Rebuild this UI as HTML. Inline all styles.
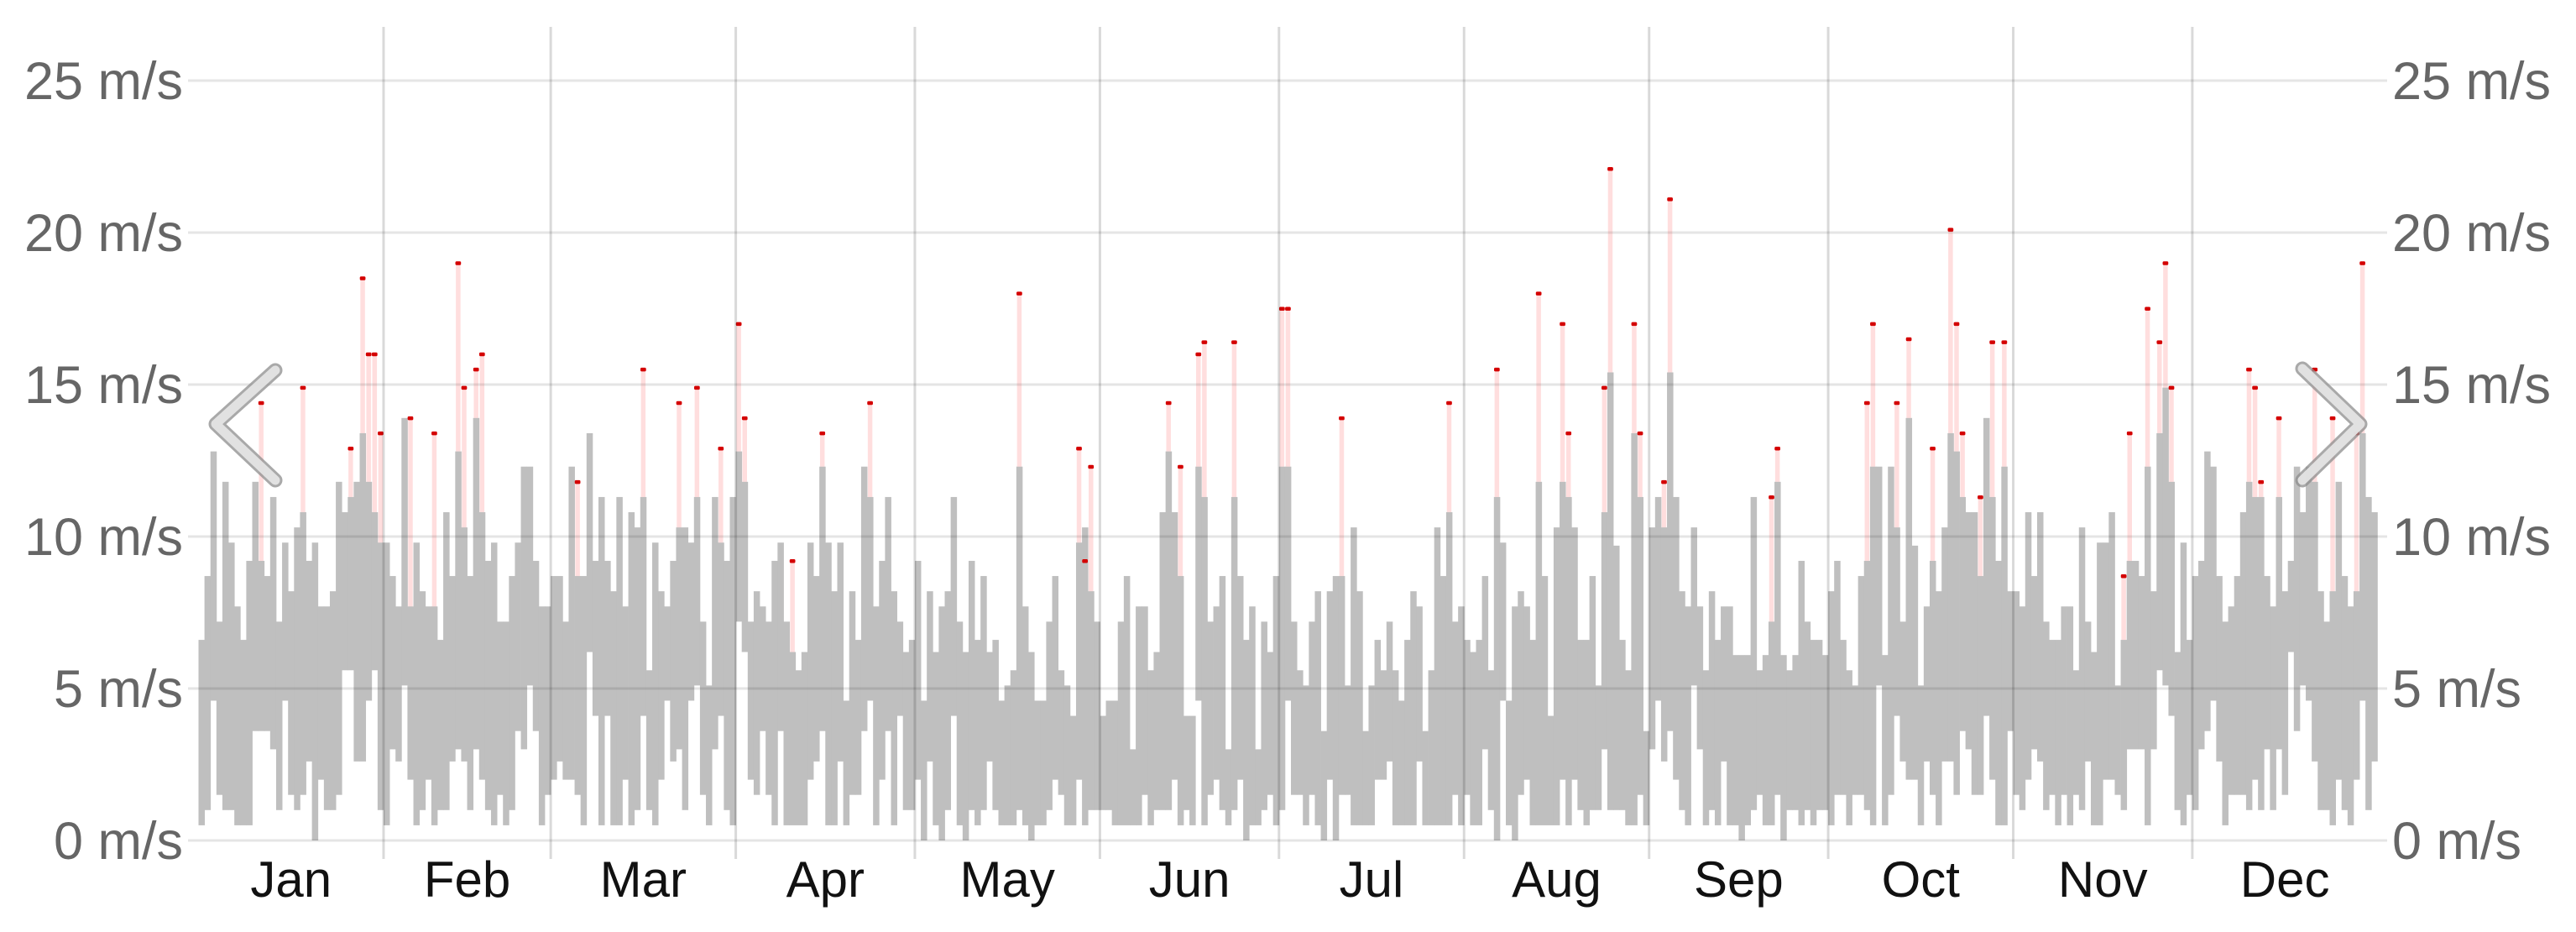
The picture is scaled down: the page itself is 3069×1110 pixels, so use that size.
<!DOCTYPE html>
<html><head><meta charset="utf-8"><title>Wind speed</title>
<style>
html,body{margin:0;padding:0;background:#fff;}
svg{display:block;}
text{font-family:"Liberation Sans",Arial,sans-serif;}
</style></head>
<body>
<svg id="chart" width="3069" height="1110" viewBox="0 0 3069 1110" xmlns="http://www.w3.org/2000/svg">
<g id="bars"></g>
<g id="grid"></g>
<g id="yleft"></g>
<g id="yright"></g>
<g id="xaxis"></g>
<g>
<polyline points="328,441 257,505 328,572" fill="none" stroke="rgba(140,140,140,0.75)" stroke-width="17" stroke-linecap="round" stroke-linejoin="round"/>
<polyline points="328,441 257,505 328,572" fill="none" stroke="rgba(228,228,228,0.95)" stroke-width="11" stroke-linecap="round" stroke-linejoin="round"/>
</g>
<g>
<polyline points="2743,439 2812,505 2743,572" fill="none" stroke="rgba(140,140,140,0.75)" stroke-width="17" stroke-linecap="round" stroke-linejoin="round"/>
<polyline points="2743,439 2812,505 2743,572" fill="none" stroke="rgba(228,228,228,0.95)" stroke-width="11" stroke-linecap="round" stroke-linejoin="round"/>
</g>
</svg>
<script>
const lows = [0.5,1.0,4.6,1.5,1.0,1.0,0.5,0.5,0.5,3.6,3.6,3.6,3.0,1.0,4.6,1.5,1.0,1.5,2.6,0,2.0,1.0,1.0,1.5,5.6,5.6,2.6,2.6,4.6,5.6,1.0,0.5,3.0,2.6,5.1,2.0,0.5,1.0,2.0,0.5,1.0,1.0,2.6,3.0,2.6,1.0,3.0,2.0,1.0,0.5,1.5,0.5,1.0,3.6,3.0,5.1,3.6,0.5,1.5,2.0,2.6,2.0,2.0,1.5,0.5,6.2,4.1,0.5,4.1,0.5,0.5,2.0,0.5,
1.0,4.1,1.0,0.5,2.0,4.6,2.6,3.0,1.0,4.6,5.1,1.5,0.5,3.0,4.1,1.0,0.5,7.2,6.2,2.0,1.5,3.6,1.5,0.5,3.6,0.5,0.5,0.5,0.5,2.0,2.6,3.6,0.5,0.5,2.6,0.5,1.5,1.5,3.6,4.6,0.5,2.0,3.6,0.5,4.1,1.0,1.0,2.0,0,2.6,0.5,0,1.0,4.1,0.5,0,1.0,0.5,1.0,2.6,1.0,0.5,0.5,0.5,1.0,0.5,0,0.5,0.5,1.0,2.0,1.5,0.5,
0.5,2.0,0.5,1.0,1.0,1.0,1.0,0.5,0.5,0.5,0.5,0.5,1.5,0.5,1.0,1.0,1.0,2.0,0.5,1.0,0.5,4.6,0.5,1.5,2.0,1.0,0.5,1.0,2.0,0,0.5,0.5,1.0,1.5,0.5,1.0,4.6,1.5,1.5,0.5,1.5,0.5,0,2.0,0,1.5,1.5,0.5,0.5,0.5,0.5,2.0,2.0,2.6,0.5,0.5,0.5,0.5,2.6,0.5,0.5,0.5,0.5,0.5,1.5,0.5,1.5,0.5,0.5,3.0,1.0,0,4.6,
0.5,0,1.5,2.0,0.5,0.5,0.5,0.5,0.5,2.0,0.5,2.0,1.0,0.5,1.0,1.0,3.0,1.0,1.0,1.0,0.5,0.5,1.5,0.5,3.0,4.6,2.6,3.6,2.0,1.0,0.5,5.1,3.0,0.5,1.0,0.5,2.6,0.5,0.5,0,0.5,1.0,1.5,0.5,0.5,1.5,0,1.0,1.0,0.5,1.0,0.5,1.0,1.0,0.5,1.5,1.5,0.5,1.5,1.5,1.0,0.5,5.1,0.5,1.5,4.1,2.6,2.0,2.0,0.5,2.6,1.5,0.5,2.6,
2.6,1.5,3.6,3.0,1.5,1.5,4.1,2.0,0.5,0.5,3.6,1.5,1.0,2.0,3.0,2.6,1.0,1.5,0.5,1.5,0.5,1.5,1.0,2.6,0.5,0.5,2.0,2.0,1.5,1.0,3.0,3.0,3.0,0.5,3.0,5.6,5.1,4.1,1.0,0.5,1.5,1.0,3.0,3.6,4.6,2.6,0.5,1.5,1.5,1.5,1.0,2.0,1.0,3.0,1.0,3.0,1.5,6.2,3.6,5.1,4.6,2.6,1.0,1.0,0.5,2.0,1.0,0.5,2.0,4.6,1.0,2.6];
const highs = [6.6,8.7,12.8,7.2,11.8,9.8,7.7,6.6,9.2,11.8,9.2,8.7,11.3,7.2,9.8,8.2,10.3,10.8,9.2,9.8,7.7,7.7,8.2,11.8,10.8,11.3,11.8,13.4,11.8,10.8,9.8,9.8,8.7,7.7,13.9,7.7,9.8,8.2,7.7,7.7,6.6,10.8,8.7,12.8,10.3,8.7,13.9,10.8,9.2,9.8,7.2,7.2,8.7,9.8,12.3,12.3,9.2,7.7,7.7,8.7,8.7,7.2,12.3,8.7,8.7,13.4,9.2,11.3,9.2,8.2,11.3,7.7,10.8,
10.3,11.3,5.6,9.8,8.2,7.7,9.2,10.3,10.3,9.8,11.3,7.2,5.1,11.3,9.8,9.2,11.3,12.8,11.8,7.2,8.2,7.7,7.2,9.2,9.8,7.2,6.2,5.6,6.2,9.8,8.7,12.3,9.8,8.2,9.8,4.6,8.2,6.6,12.3,11.3,7.7,9.2,11.3,8.2,7.2,6.2,6.6,9.2,4.6,8.2,6.2,7.7,8.2,11.3,7.2,6.2,9.2,6.6,8.7,6.2,6.6,4.6,5.1,5.6,12.3,7.7,6.2,4.6,4.6,7.2,8.7,5.6,5.1,
4.1,9.8,10.3,8.2,7.2,4.1,4.6,4.6,7.2,8.7,3.0,7.7,7.7,5.6,6.2,10.8,12.8,10.8,8.7,4.1,4.1,12.3,11.3,7.2,7.7,8.7,3.0,11.3,8.7,6.6,7.7,3.0,7.2,6.2,8.7,12.3,12.3,7.2,5.6,5.1,7.2,8.2,3.6,8.2,8.7,8.7,5.1,10.3,8.2,3.6,5.1,6.6,5.6,7.2,5.6,4.6,6.6,8.2,7.7,3.6,5.6,10.3,8.7,10.8,7.2,7.7,6.6,6.2,6.6,8.7,5.6,11.3,9.8,
4.6,7.7,8.2,7.7,6.6,11.8,8.7,4.1,10.3,11.8,11.3,10.3,6.6,6.6,8.7,5.1,10.8,15.4,9.7,6.6,5.6,13.4,11.3,3.6,10.3,11.3,10.3,15.4,11.3,8.2,7.7,10.3,7.7,5.6,8.2,6.6,7.7,7.7,6.1,6.1,6.1,11.3,5.6,6.1,7.2,11.8,6.1,5.6,6.1,9.2,7.2,6.6,6.6,6.1,8.2,9.2,6.6,5.6,5.1,8.7,9.2,12.3,12.3,6.1,12.3,10.3,7.2,13.9,9.7,5.1,7.7,9.2,8.2,10.3,
13.4,12.8,11.3,10.8,10.8,8.7,13.9,11.3,9.2,12.3,8.2,8.2,7.7,10.8,8.7,10.8,7.2,6.6,6.6,7.7,7.7,5.6,10.3,7.2,6.2,9.8,9.8,10.8,5.1,6.6,9.2,9.2,8.7,12.3,8.2,13.4,14.9,11.8,6.2,9.8,6.6,8.7,9.2,12.8,12.3,8.7,7.2,7.7,8.7,10.8,11.8,11.3,11.3,8.7,7.7,11.3,8.2,9.2,12.3,10.8,12.3,11.8,8.2,7.2,8.2,11.8,8.7,7.7,8.2,13.4,11.3,10.8];
const gustDays = [10,17,25,27,28,29,30,35,39,43,44,46,47,63,74,80,83,87,90,91,99,104,112,137,147,148,149,162,164,167,168,173,181,182,191,209,217,224,228,229,235,236,240,241,245,246,263,264,279,280,284,286,290,293,294,295,298,300,302,322,323,326,328,329,330,343,344,345,348,354,357,361,362];
const gustValues = [14.4,14.9,12.9,18.5,16.0,16.0,13.4,13.9,13.4,19.0,14.9,15.5,16.0,11.8,15.5,14.4,14.9,12.9,17.0,13.9,9.2,13.4,14.4,18.0,12.9,9.2,12.3,14.4,12.3,16.0,16.4,16.4,17.5,17.5,13.9,14.4,15.5,18.0,17.0,13.4,14.9,22.1,17.0,13.4,11.8,21.1,11.3,12.9,14.4,17.0,14.4,16.5,12.9,20.1,17.0,13.4,11.3,16.4,16.4,8.7,13.4,17.5,16.4,19.0,14.9,15.5,14.9,11.8,13.9,15.5,13.9,13.4,19.0];
const months = ["Jan","Feb","Mar","Apr","May","Jun","Jul","Aug","Sep","Oct","Nov","Dec"];
const monthDays = [31,28,31,30,31,30,31,31,30,31,30,31];
const yTicks = [0,5,10,15,20,25];

const NS = "http://www.w3.org/2000/svg";
const X0 = 236.5, DAYW = 7.112, Y0 = 1001, PER = 36.2;
function xScale(d){ return X0 + d*DAYW; }
function yScale(v){ return Y0 - v*PER; }
function mk(tag, attrs, parent){ const e=document.createElementNS(NS,tag); for(const k in attrs) e.setAttribute(k,attrs[k]); parent.appendChild(e); return e; }

const bars = document.getElementById('bars');
for(let d=0; d<lows.length; d++){
  const r = mk('rect',{x:xScale(d), y:yScale(highs[d]), width:DAYW+0.4, height:Math.max(1,yScale(lows[d])-yScale(highs[d])), fill:'rgb(191,191,191)'}, bars);
  
  
}
for(let i=0; i<gustDays.length; i++){
  const d = gustDays[i], g = gustValues[i];
  const top = yScale(g), base = Math.max(top, yScale(highs[d]));
  const p = mk('rect',{x:xScale(d)+0.8, y:top, width:DAYW-1.6, height:base-top, fill:'rgba(255,0,0,0.13)'}, bars);
  
  
  const t = mk('rect',{x:xScale(d)+0.2, y:top-2, width:DAYW-0.4, height:4.5, rx:1.5, fill:'#d40000'}, bars);
  
  
}

const grid = document.getElementById('grid');
const yl = document.getElementById('yleft'), yr = document.getElementById('yright');
yTicks.forEach(v=>{
  const l = mk('line',{x1:224, x2:2844, y1:yScale(v), y2:yScale(v), stroke:'rgba(0,0,0,0.1)', 'stroke-width':3}, grid);
  
  
  const a = mk('text',{x:218, y:yScale(v)+22, 'text-anchor':'end', 'font-size':63, fill:'#666'}, yl);
  a.textContent = v+' m/s';
  
  
  const b = mk('text',{x:2850, y:yScale(v)+22, 'text-anchor':'start', 'font-size':63, fill:'#666'}, yr);
  b.textContent = v+' m/s';
  
  
});
const xa = document.getElementById('xaxis');
let start = 0;
months.forEach((m,i)=>{
  if(i>0){
    const l = mk('line',{x1:xScale(start), x2:xScale(start), y1:32, y2:1023, stroke:'rgba(0,0,0,0.15)', 'stroke-width':3}, grid);
    
    
  }
  const t = mk('text',{x:xScale(start+monthDays[i]/2), y:1068, 'text-anchor':'middle', 'font-size':60, fill:'#111'}, xa);
  t.textContent = m;
  
  
  start += monthDays[i];
});
</script>
</body></html>
